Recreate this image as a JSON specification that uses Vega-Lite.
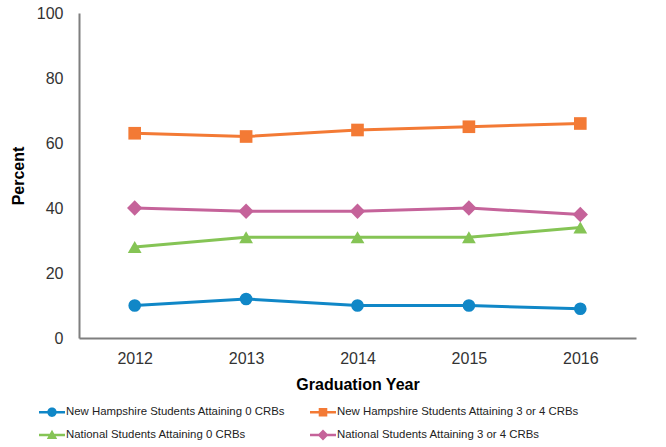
{
  "$schema": "https://vega.github.io/schema/vega-lite/v6.json",
  "width": 557,
  "height": 325,
  "autosize": {"type": "none"},
  "padding": {"left": 79, "top": 13, "right": 30, "bottom": 109},
  "background": "white",
  "config": {
    "font": "Liberation Sans",
    "view": {"stroke": null},
    "axis": {"grid": false, "ticks": false, "domainColor": "#7f7f7f", "domainWidth": 2, "labelColor": "#333333", "labelFontSize": 16, "titleColor": "#000000", "titleFontSize": 16, "titleFontWeight": "bold"},
    "legend": {"orient": "none", "direction": "horizontal", "legendX": -40, "legendY": 386, "columns": 2, "labelFontSize": 11.4, "labelLimit": 400, "labelColor": "#222222", "symbolSize": 676, "columnPadding": 24, "rowPadding": 4, "labelOffset": 1, "symbolStrokeWidth": 0, "symbolOpacity": 1}
  },
  "data": {
    "values": [
      {"year": "2012", "series": "New Hampshire Students Attaining 0 CRBs", "value": 10},
      {"year": "2013", "series": "New Hampshire Students Attaining 0 CRBs", "value": 12},
      {"year": "2014", "series": "New Hampshire Students Attaining 0 CRBs", "value": 10},
      {"year": "2015", "series": "New Hampshire Students Attaining 0 CRBs", "value": 10},
      {"year": "2016", "series": "New Hampshire Students Attaining 0 CRBs", "value": 9},
      {"year": "2012", "series": "New Hampshire Students Attaining 3 or 4 CRBs", "value": 63},
      {"year": "2013", "series": "New Hampshire Students Attaining 3 or 4 CRBs", "value": 62},
      {"year": "2014", "series": "New Hampshire Students Attaining 3 or 4 CRBs", "value": 64},
      {"year": "2015", "series": "New Hampshire Students Attaining 3 or 4 CRBs", "value": 65},
      {"year": "2016", "series": "New Hampshire Students Attaining 3 or 4 CRBs", "value": 66},
      {"year": "2012", "series": "National Students Attaining 0 CRBs", "value": 28},
      {"year": "2013", "series": "National Students Attaining 0 CRBs", "value": 31},
      {"year": "2014", "series": "National Students Attaining 0 CRBs", "value": 31},
      {"year": "2015", "series": "National Students Attaining 0 CRBs", "value": 31},
      {"year": "2016", "series": "National Students Attaining 0 CRBs", "value": 34},
      {"year": "2012", "series": "National Students Attaining 3 or 4 CRBs", "value": 40},
      {"year": "2013", "series": "National Students Attaining 3 or 4 CRBs", "value": 39},
      {"year": "2014", "series": "National Students Attaining 3 or 4 CRBs", "value": 39},
      {"year": "2015", "series": "National Students Attaining 3 or 4 CRBs", "value": 40},
      {"year": "2016", "series": "National Students Attaining 3 or 4 CRBs", "value": 38}
    ]
  },
  "encoding": {
    "x": {"field": "year", "type": "ordinal", "title": "Graduation Year",
      "axis": {"labelAngle": 0, "labelPadding": 12, "titlePadding": 10}},
    "y": {"field": "value", "type": "quantitative", "title": "Percent",
      "scale": {"domain": [0, 100]},
      "axis": {"values": [0, 20, 40, 60, 80, 100], "labelPadding": 16, "titlePadding": 10}},
    "color": {"field": "series", "type": "nominal",
      "scale": {
        "domain": ["New Hampshire Students Attaining 0 CRBs", "New Hampshire Students Attaining 3 or 4 CRBs", "National Students Attaining 0 CRBs", "National Students Attaining 3 or 4 CRBs"],
        "range": ["#1087c7", "#f37a35", "#85c455", "#c5639a"]
      },
      "legend": {
        "title": null,
        "encode": {"symbols": {"update": {"shape": {"signal": "datum.value == 'New Hampshire Students Attaining 0 CRBs' ? 'M-1,-0.1H1V0.1H-1Z M-0.36,0A0.36,0.36,0,1,1,0.36,0A0.36,0.36,0,1,1,-0.36,0Z' : datum.value == 'New Hampshire Students Attaining 3 or 4 CRBs' ? 'M-1,-0.1H1V0.1H-1Z M-0.33,-0.33H0.33V0.33H-0.33Z' : datum.value == 'National Students Attaining 0 CRBs' ? 'M-1,-0.1H1V0.1H-1Z M0,-0.4L0.4,0.3H-0.4Z' : 'M-1,-0.1H1V0.1H-1Z M0,-0.42L0.42,0L0,0.42L-0.42,0Z'"}, "size": {"value": 676}, "fillOpacity": {"value": 1}}}}
      }}
  },
  "layer": [
    {
      "mark": {"type": "line", "strokeWidth": 3}
    },
    {
      "transform": [{"filter": "datum.series == 'New Hampshire Students Attaining 0 CRBs'"}],
      "mark": {"type": "point", "filled": true, "opacity": 1, "shape": "circle", "size": 160}
    },
    {
      "transform": [{"filter": "datum.series == 'New Hampshire Students Attaining 3 or 4 CRBs'"}],
      "mark": {"type": "point", "filled": true, "opacity": 1, "shape": "square", "size": 160}
    },
    {
      "transform": [{"filter": "datum.series == 'National Students Attaining 0 CRBs'"}],
      "mark": {"type": "point", "filled": true, "opacity": 1, "shape": "triangle-up", "size": 190}
    },
    {
      "transform": [{"filter": "datum.series == 'National Students Attaining 3 or 4 CRBs'"}],
      "mark": {"type": "point", "filled": true, "opacity": 1, "shape": "diamond", "size": 235}
    }
  ]
}
